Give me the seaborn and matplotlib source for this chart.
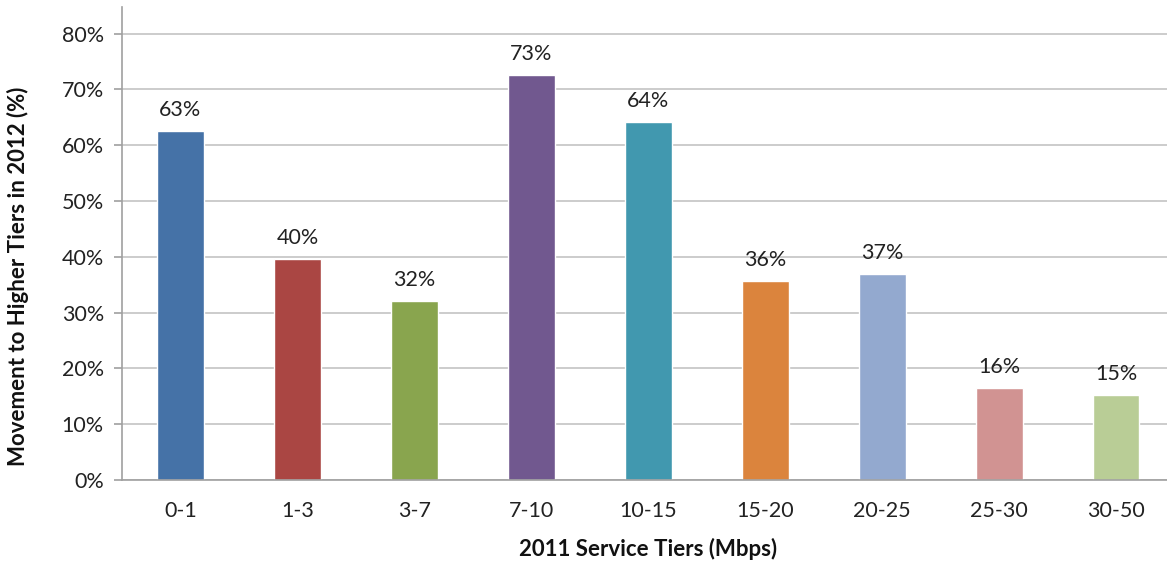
import matplotlib
matplotlib.use("Agg")
import matplotlib.pyplot as plt
import seaborn as sns
import pandas as pd
from matplotlib.ticker import FixedLocator, PercentFormatter

# Data
tiers = ["0-1", "1-3", "3-7", "7-10", "10-15", "15-20", "20-25", "25-30", "30-50"]
movement = [62.6, 39.6, 32.1, 72.6, 64.1, 35.6, 36.9, 16.4, 15.2]
bar_labels = ["63%", "40%", "32%", "73%", "64%", "36%", "37%", "16%", "15%"]
colors = ["#4572A7", "#AA4643", "#89A54E", "#71588F", "#4198AF",
          "#DB843D", "#93A9CF", "#D19392", "#B9CD96"]

df = pd.DataFrame({"tier": tiers, "movement": movement})

sns.set_style("white")
plt.rcParams["font.family"] = ["Lato", "DejaVu Sans"]

fig = plt.figure(figsize=(11.67, 5.64), dpi=100)
ax = fig.add_axes([0.1045, 0.149, 0.902, 0.8387])

sns.barplot(data=df, x="tier", y="movement", hue="tier", palette=colors,
            width=0.4, legend=False, ax=ax, saturation=1)

for p, lab in zip(ax.patches, bar_labels):
    ax.annotate(lab, (p.get_x() + p.get_width() / 2, p.get_height()),
                xytext=(0, 8), textcoords="offset points",
                ha="center", va="bottom", fontsize=15.5, color="#222222")

ax.set_xlim(-0.5, len(tiers) - 0.5)
ax.set_ylim(0, 84.8)
ax.set_yticks(range(0, 81, 10))
ax.yaxis.set_major_formatter(PercentFormatter(decimals=0))
ax.yaxis.grid(True, color="#c4c4c4", linewidth=1.2)
ax.set_axisbelow(True)

# category boundaries as tick marks, labels at centers
ax.xaxis.set_minor_locator(FixedLocator([i - 0.5 for i in range(len(tiers) + 1)]))
ax.tick_params(axis="x", which="minor", length=6, color="#a0a0a0", width=1.2, direction="out")
ax.tick_params(axis="x", which="major", length=0, pad=15, labelsize=15.5, labelcolor="#222222")
ax.tick_params(axis="y", which="major", length=6, color="#a0a0a0", width=1.2,
               direction="out", labelsize=15.5, labelcolor="#222222", pad=7, left=True)

for s in ["top", "right"]:
    ax.spines[s].set_visible(False)
for s in ["left", "bottom"]:
    ax.spines[s].set_color("#a0a0a0")
    ax.spines[s].set_linewidth(1.2)

ax.set_xlabel("2011 Service Tiers (Mbps)", fontsize=16, fontweight="bold",
              color="#111111", labelpad=12)
ax.set_ylabel("Movement to Higher Tiers in 2012 (%)", fontsize=16, fontweight="bold",
              color="#111111", va="center")
ax.yaxis.set_label_coords(-0.0985, 0.43)

fig.savefig("out.png", dpi=100)
